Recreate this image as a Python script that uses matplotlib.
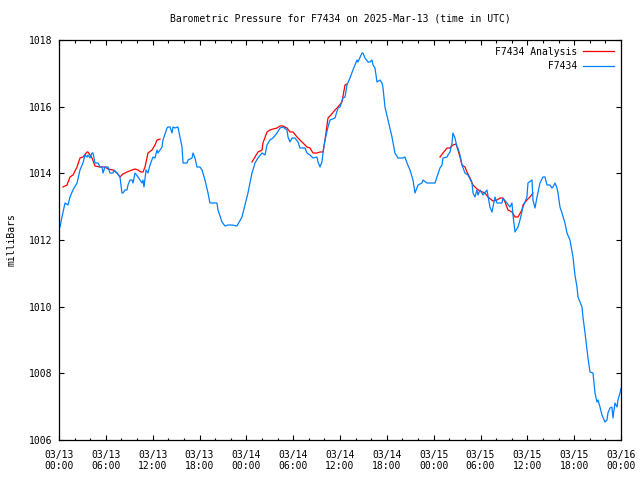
import matplotlib
matplotlib.use("Agg")
import matplotlib.pyplot as plt
import numpy as np
from matplotlib.ticker import MultipleLocator, FixedLocator

# hours since 2025-03-13 00:00 UTC
obs_hours = [0.13, 0.38, 0.77, 1.15, 1.41, 1.79, 2.31, 2.69, 3.07, 3.33, 3.59, 3.72, 3.97, 4.23, 4.36,
             4.61, 5.00, 5.25, 5.51, 5.64, 5.89, 6.28, 6.53, 6.92, 7.05, 7.43, 7.81, 8.07, 8.20, 8.46,
             8.71, 8.84, 9.10, 9.35, 9.48, 9.74, 10.12, 10.38, 10.63, 10.76, 10.89, 11.15, 11.40, 11.66,
             12.04, 12.30, 12.55, 12.68, 13.20, 13.32, 13.84, 13.96, 14.22, 14.48, 14.60, 14.86, 15.24,
             15.50, 15.76, 15.89, 16.40, 16.53, 17.04, 17.17, 17.42, 17.68, 18.06, 18.32, 18.70, 19.09,
             19.34, 20.24, 20.37, 20.88, 21.27, 21.65, 22.16, 22.80, 23.44, 23.83, 24.21, 24.72, 24.85,
             25.11, 25.49, 26.01, 26.39, 26.65, 27.03, 27.42, 27.93, 28.31, 28.70, 29.21, 29.34, 29.59,
             29.85, 30.23, 30.62, 30.87, 31.51, 31.77, 32.15, 32.54, 33.05, 33.18, 33.44, 33.69, 33.82,
             34.08, 34.46, 34.72, 35.36, 35.74, 36.00, 36.38, 36.64, 36.89, 37.28, 37.66, 38.18, 38.30,
             38.82, 38.95, 39.20, 39.59, 39.84, 40.10, 40.23, 40.48, 40.74, 41.12, 41.38, 41.51, 41.76,
             42.15, 42.66, 43.04, 43.43, 44.07, 44.32, 44.58, 44.97, 45.35, 45.61, 45.99, 46.50, 46.63,
             47.14, 48.17, 48.42, 48.81, 49.07, 49.19, 49.71, 49.83, 50.09, 50.35, 50.47, 50.73, 50.99,
             51.11, 51.37, 51.63, 52.01, 52.40, 52.91, 53.04, 53.29, 53.55, 53.68, 53.93, 54.32, 54.83,
             55.21, 55.47, 55.86, 56.11, 56.75, 56.88, 57.39, 57.78, 58.03, 58.16, 58.42, 58.80, 59.06,
             59.44, 59.95, 60.08, 60.60, 60.72, 60.98, 61.24, 61.62, 62.00, 62.26, 62.52, 62.90, 63.16,
             63.28, 63.54, 63.80, 63.93, 64.18, 64.44, 64.82, 65.08, 65.46, 65.85, 66.10, 66.36, 66.49,
             67.00, 67.13, 67.39, 67.64, 67.77, 68.03, 68.41, 68.67, 68.92, 69.05, 69.31, 69.56, 69.95,
             70.20, 70.33, 70.59, 70.84, 70.97, 71.23, 71.49, 71.61, 71.87, 72.00]
obs_mb = [1012.39, 1012.69, 1013.11, 1013.05, 1013.29, 1013.50, 1013.71, 1014.10, 1014.31, 1014.55,
          1014.49, 1014.55, 1014.46, 1014.61, 1014.61, 1014.31, 1014.31, 1014.19, 1014.19, 1014.01,
          1014.19, 1014.19, 1014.01, 1014.01, 1014.10, 1014.01, 1013.89, 1013.41, 1013.41, 1013.50,
          1013.50, 1013.65, 1013.80, 1013.80, 1013.71, 1014.01, 1013.89, 1013.80, 1013.71, 1013.80,
          1013.59, 1014.10, 1014.01, 1014.25, 1014.49, 1014.46, 1014.70, 1014.61, 1014.79, 1015.00,
          1015.36, 1015.39, 1015.39, 1015.21, 1015.39, 1015.36, 1015.39, 1015.09, 1014.79, 1014.31,
          1014.31, 1014.40, 1014.46, 1014.61, 1014.46, 1014.19, 1014.19, 1014.10, 1013.80, 1013.41,
          1013.11, 1013.11, 1012.90, 1012.54, 1012.42, 1012.45, 1012.45, 1012.42, 1012.69, 1013.05,
          1013.41, 1014.01, 1014.10, 1014.31, 1014.46, 1014.61, 1014.55, 1014.85, 1015.00, 1015.06,
          1015.21, 1015.36, 1015.39, 1015.30, 1015.09, 1014.94, 1015.06, 1015.06, 1014.94, 1014.76,
          1014.76, 1014.61, 1014.55, 1014.46, 1014.49, 1014.34, 1014.19, 1014.34, 1014.61, 1015.00,
          1015.39, 1015.60, 1015.66, 1015.96, 1015.99, 1016.26, 1016.29, 1016.65, 1016.86, 1017.10,
          1017.40, 1017.34, 1017.61, 1017.61, 1017.46, 1017.34, 1017.34, 1017.40, 1017.25, 1017.16,
          1016.74, 1016.80, 1016.71, 1016.56, 1015.99, 1015.60, 1015.09, 1014.61, 1014.46, 1014.46,
          1014.49, 1014.31, 1014.10, 1013.80, 1013.41, 1013.65, 1013.71, 1013.80, 1013.71, 1013.71,
          1013.89, 1014.16, 1014.25, 1014.46, 1014.49, 1014.55, 1014.64, 1014.91, 1015.21, 1015.06,
          1014.79, 1014.76, 1014.55, 1014.25, 1014.01, 1013.95, 1013.71, 1013.41, 1013.29, 1013.50,
          1013.35, 1013.50, 1013.35, 1013.50, 1012.99, 1012.84, 1013.29, 1013.11, 1013.11, 1013.26,
          1013.11, 1012.99, 1013.11, 1012.75, 1012.24, 1012.39, 1012.60, 1012.99, 1013.29, 1013.71,
          1013.80, 1013.20, 1012.96, 1013.29, 1013.71, 1013.89, 1013.89, 1013.65, 1013.65, 1013.56,
          1013.59, 1013.71, 1013.56, 1013.41, 1012.99, 1012.81, 1012.51, 1012.21, 1012.00, 1011.49,
          1010.95, 1010.59, 1010.29, 1009.99, 1009.69, 1009.21, 1008.70, 1008.46, 1008.04, 1008.01,
          1007.41, 1007.14, 1007.20, 1006.99, 1006.75, 1006.54, 1006.60, 1006.81, 1006.96, 1006.99,
          1006.66, 1007.11, 1006.99, 1007.20, 1007.41, 1007.55]

ana1_hours = [0.51, 1.02, 1.41, 1.79, 2.31, 2.69, 3.07, 3.59, 3.72, 4.23, 4.61, 5.25, 5.89, 6.28, 6.92,
              7.43, 7.81, 8.20, 8.71, 9.35, 9.74, 10.12, 10.50, 10.76, 11.02, 11.40, 11.91, 12.30,
              12.55, 12.94]
ana1_mb = [1013.59, 1013.65, 1013.89, 1013.95, 1014.19, 1014.46, 1014.49, 1014.64, 1014.64, 1014.46,
           1014.22, 1014.19, 1014.19, 1014.13, 1014.10, 1014.01, 1013.89, 1013.98, 1014.04, 1014.10,
           1014.13, 1014.10, 1014.04, 1014.04, 1014.19, 1014.61, 1014.70, 1014.85, 1015.00, 1015.03]
ana2_hours = [24.72, 25.11, 25.49, 26.01, 26.13, 26.65, 27.03, 27.42, 27.93, 28.31, 28.70, 29.21, 29.59,
              29.98, 30.49, 30.87, 31.26, 31.77, 32.15, 32.54, 33.05, 33.44, 33.82, 34.08, 34.46, 34.72,
              35.36, 35.74, 36.25, 36.64, 36.89]
ana2_mb = [1014.34, 1014.49, 1014.64, 1014.70, 1014.91, 1015.24, 1015.30, 1015.33, 1015.36, 1015.42,
           1015.42, 1015.36, 1015.24, 1015.24, 1015.09, 1015.00, 1014.91, 1014.79, 1014.76, 1014.61,
           1014.61, 1014.64, 1014.64, 1015.00, 1015.66, 1015.72, 1015.90, 1015.99, 1016.14, 1016.65,
           1016.68]
ana3_hours = [48.81, 49.19, 49.71, 50.09, 50.47, 50.86, 51.11, 51.37, 51.63, 52.01, 52.27, 52.66, 53.04,
              53.55, 53.93, 54.57, 54.96, 55.60, 56.11, 56.50, 56.88, 57.14, 57.52, 58.03, 58.42, 58.80,
              59.31, 59.44, 59.95, 60.34, 60.72]
ana3_mb = [1014.49, 1014.61, 1014.76, 1014.76, 1014.85, 1014.88, 1014.70, 1014.49, 1014.25, 1014.19,
           1014.04, 1013.86, 1013.65, 1013.53, 1013.47, 1013.41, 1013.29, 1013.17, 1013.20, 1013.26,
           1013.26, 1013.14, 1012.90, 1012.84, 1012.69, 1012.69, 1012.90, 1013.05, 1013.20, 1013.29,
           1013.41]

tick_hours = [0, 6, 12, 18, 24, 30, 36, 42, 48, 54, 60, 66, 72]
tick_labels = ["03/13\n00:00", "03/13\n06:00", "03/13\n12:00", "03/13\n18:00",
               "03/14\n00:00", "03/14\n06:00", "03/14\n12:00", "03/14\n18:00",
               "03/15\n00:00", "03/15\n06:00", "03/15\n12:00", "03/15\n18:00",
               "03/16\n00:00"]
y_ticks = [1006, 1008, 1010, 1012, 1014, 1016, 1018]

plt.rcParams['font.family'] = ['DejaVu Sans Mono']
plt.rcParams['font.size'] = 7

fig = plt.figure(figsize=(6.4, 4.8), dpi=100)
ax = fig.add_axes([59/640, 40/480, 562/640, 400/480])

red = "#ff0000"
blue = "#0080ff"
first = True
for h, v in [(ana1_hours, ana1_mb), (ana2_hours, ana2_mb), (ana3_hours, ana3_mb)]:
    ax.plot(h, v, color=red, lw=0.9, label="F7434 Analysis" if first else None)
    first = False
ax.plot(obs_hours, obs_mb, color=blue, lw=0.9, label="         F7434")

ax.set_xlim(0, 72)
ax.set_ylim(1006, 1018)
ax.xaxis.set_major_locator(FixedLocator(tick_hours))
ax.set_xticklabels(tick_labels)
ax.xaxis.set_minor_locator(MultipleLocator(2))
ax.set_yticks(y_ticks)
ax.tick_params(axis='both', which='major', direction='in', length=3.5, width=0.8,
               top=True, right=True)
ax.tick_params(axis='x', which='minor', direction='in', length=1.8, width=0.8, top=True)
ax.tick_params(axis='x', which='major', pad=7)
ax.tick_params(axis='y', which='major', pad=5)
for s in ax.spines.values():
    s.set_linewidth(0.9)

ax.set_title("Barometric Pressure for F7434 on 2025-Mar-13 (time in UTC)", pad=13, fontsize=7)
ax.set_ylabel("milliBars", labelpad=9)

leg = ax.legend(loc='upper right', frameon=False, markerfirst=False, handlelength=3.2,
                handletextpad=0.6, labelspacing=0.45, borderaxespad=0.3, fontsize=7)

fig.savefig("out.png", dpi=100)
